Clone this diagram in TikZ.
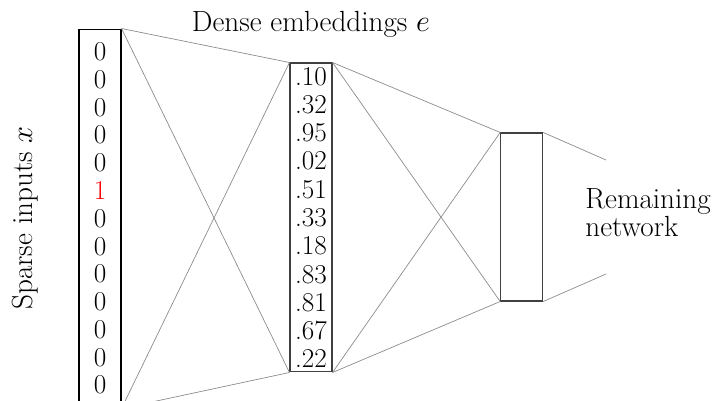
\documentclass[tikz,border=0pt]{standalone}
\usepackage{amsmath}
\usepackage{xcolor}
\usepackage{tikz}

\tikzset{
  vecbox/.style={draw, line width=0.6pt, minimum width=0.84cm, inner sep=0pt, align=center},
  link/.style={draw=black!45, line width=0.4pt},
  caption/.style={font=\fontsize{16.6}{14}\selectfont},
}

\begin{document}
\begin{tikzpicture}[x=0.02cm, y=-0.02cm, font=\fontsize{15.5}{15.8}\selectfont]
            \useasboundingbox (0,0) rectangle (714,401);

            \node[vecbox, minimum height=7.58cm] (inputs) at (100,218.5)
                {0\\0\\0\\0\\0\\\textcolor{red}{1}\\0\\0\\0\\0\\0\\0\\0};
            \node[vecbox, draw=black!75, minimum height=6.18cm,
                  font=\fontsize{15.5}{16.1}\selectfont] (embed) at (311,217.5)
                {.10\\.32\\.95\\.02\\.51\\.33\\.18\\.83\\.81\\.67\\.22};
            \node[vecbox, draw=black!75, minimum height=3.36cm] (net) at (521.7,217) {};

            \coordinate (out1) at (606,160);
            \coordinate (out2) at (606,274);

            \draw[link] (inputs.north east) -- (embed.north west);
            \draw[link] (inputs.north east) -- (embed.south west);
            \draw[link] (inputs.south east) -- (embed.north west);
            \draw[link] (inputs.south east) -- (embed.south west);

            \draw[link] (embed.north east) -- (net.north west);
            \draw[link] (embed.north east) -- (net.south west);
            \draw[link] (embed.south east) -- (net.north west);
            \draw[link] (embed.south east) -- (net.south west);

            \draw[link] (net.north east) -- (out1);
            \draw[link] (net.south east) -- (out2);

            \node[caption, anchor=base] (elabel) at (311,32) {Dense embeddings $e$};
            \node[caption, rotate=90, anchor=base] (xlabel) at (32,218) {Sparse inputs $x$};
            \node[caption, align=left, anchor=west, inner sep=0pt] (rest) at (585,213) {Remaining\\network};
        \end{tikzpicture}
\end{document}
